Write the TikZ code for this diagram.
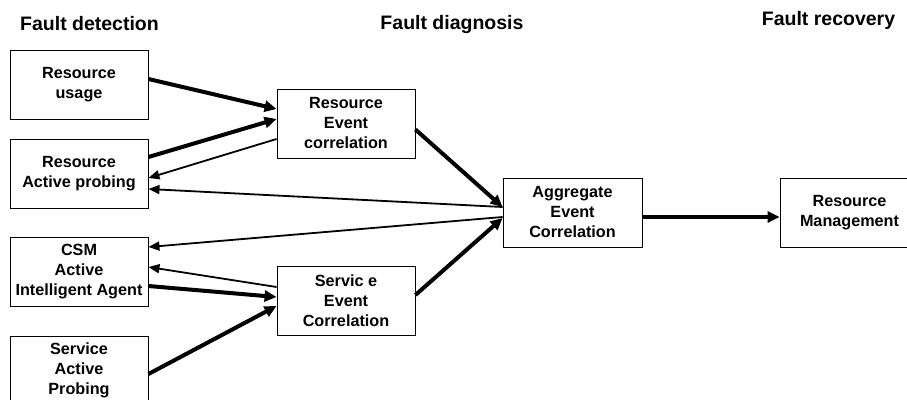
\documentclass[tikz,border=0pt]{standalone}
\usepackage{fontspec}
\setmainfont{Liberation Sans}
\usetikzlibrary{arrows.meta,calc}
\begin{document}
\begin{tikzpicture}[x=1pt,y=-1pt,
  box/.style={draw,line width=0.9pt,minimum width=138pt,minimum height=69pt,
    inner sep=0pt,align=center,font=\fontsize{16.2}{20}\selectfont\bfseries},
  header/.style={inner sep=0pt,font=\fontsize{19.5}{23}\selectfont\bfseries},
  fwd/.style={line width=4pt,-{Triangle[length=12pt,width=11pt]}},
  back/.style={line width=1.8pt,-{Triangle[length=11pt,width=9pt]}}]
\useasboundingbox (0,0) rectangle (907,399);
\clip (0,0) rectangle (907,399);

% column headings
\node[header] (hdet) at (89.5,24) {Fault detection};
\node[header] (hdia) at (452,24) {Fault diagnosis};
\node[header] (hrec) at (828.5,20) {Fault recovery};

% detection sources
\node[box] (ru)  at (79,84.5)  {Resource\\usage};
\node[box] (rap) at (79,173.5) {Resource\\Active probing};
\node[box] (csm) at (79,271.5) {CSM\\Active\\Intelligent Agent};
\node[box] (sap) at (79,370.5) {Service\\Active\\Probing};

% diagnosis
\node[box] (rec) at (346,123.5) {Resource\\Event\\correlation};
\node[box] (sec) at (346,300.5) {Servic e\\Event\\Correlation};
\node[box,minimum width=139pt] (agg) at (572.5,212.5) {Aggregate\\Event\\Correlation};

% recovery
\node[box,minimum width=139pt] (rm) at (849.5,212.5) {Resource\\Management};

% resource branch
\draw[fwd]  ($(ru.east)+(0,-5.5)$)   -- ($(rec.west)+(0,-14.5)$);
\draw[fwd]  ($(rap.east)+(0,-16.5)$) -- ($(rec.west)+(0,-4.5)$);
\draw[back] ($(rec.west)+(0,15.5)$)  -- ($(rap.east)+(0,4.5)$);
\draw[back] ($(agg.west)+(0,-5.5)$)  -- ($(rap.east)+(0,15.5)$);
\draw[fwd]  ($(rec.east)+(0,6)$)     -- ($(agg.west)+(0,-5.5)$);

% service branch
\draw[back] ($(agg.west)+(0,4.5)$)   -- ($(csm.east)+(0,-24.5)$);
\draw[back] ($(sec.west)+(0,-13.5)$) -- ($(csm.east)+(0,-4.5)$);
\draw[fwd]  ($(csm.east)+(0,14.5)$)  -- ($(sec.west)+(0,-3.5)$);
\draw[fwd]  ($(sap.east)+(0,3.5)$)   -- ($(sec.west)+(0,5.5)$);
\draw[fwd]  ($(sec.east)+(0,-5.5)$)  -- ($(agg.west)+(0,5.5)$);

% recovery
\draw[fwd]  ($(agg.east)+(0,4.5)$)   -- ($(rm.west)+(0,4.5)$);
\end{tikzpicture}
\end{document}
